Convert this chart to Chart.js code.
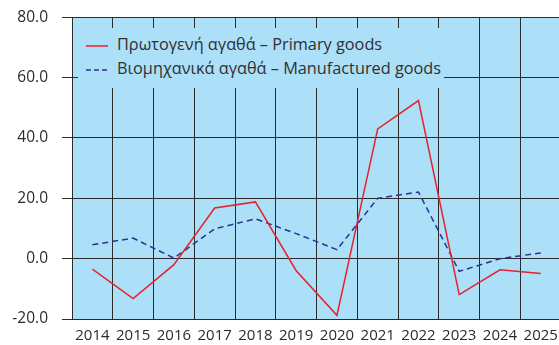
<!DOCTYPE html>
<html>
<head>
<meta charset="utf-8">
<script src="https://cdn.jsdelivr.net/npm/chart.js@4/dist/chart.umd.min.js"></script>
<style>
  html, body { margin: 0; padding: 0; background: #fff; overflow: hidden; }
  #wrap { position: relative; width: 566px; height: 345px; overflow: hidden; }
  #myChart { position: absolute; left: 0; top: -6px; }
  #legend {
    position: absolute; left: 78px; top: 28px; width: 366px; height: 60px;
    background: #acdff8; font-family: "Open Sans", sans-serif; font-size: 16.3px; color: #303030;
  }
  .row { position: absolute; left: 8px; height: 20px; line-height: 20px; white-space: nowrap; }
  .row svg { vertical-align: middle; margin-right: 9px; }
</style>
</head>
<body>
<div id="wrap">
  <canvas id="myChart" width="566" height="351"></canvas>
  <div id="legend"></div>
</div>
<script>
const years = ['2014','2015','2016','2017','2018','2019','2020','2021','2022','2023','2024','2025'];
const primary = [-3.5, -13.2, -2.0, 16.8, 18.8, -4.0, -18.8, 43.0, 52.4, -11.9, -3.7, -4.9];
const manufactured = [4.6, 6.8, 0.2, 9.9, 13.2, 8.3, 3.0, 20.0, 22.1, -4.2, 0.0, 1.9];
const seriesNames = ['Πρωτογενή αγαθά – Primary goods', 'Βιομηχανικά αγαθά – Manufactured goods'];
const seriesColors = ['#e8212b', '#2e3192'];
const seriesDash = [[], [6, 4]];

const gridColor = '#2b2b2b';
const tickColor = '#2b2b2b';

// light blue fill behind the plot area
const plotBg = {
  id: 'plotBg',
  beforeDraw(chart) {
    const a = chart.chartArea, c = chart.ctx;
    c.save();
    c.fillStyle = '#acdff8';
    c.fillRect(a.left, a.top, a.right - a.left, a.bottom - a.top);
    c.restore();
  }
};

const ctx = document.getElementById('myChart').getContext('2d');
const myChart = new Chart(ctx, {
  type: 'line',
  data: {
    labels: years,
    datasets: [primary, manufactured].map((d, i) => ({
      label: seriesNames[i],
      data: d,
      borderColor: seriesColors[i],
      borderWidth: 1.5,
      borderDash: seriesDash[i],
      pointRadius: 0,
      tension: 0,
      fill: false
    }))
  },
  options: {
    responsive: false,
    animation: false,
    layout: { padding: { top: 10, right: 2, left: 0, bottom: 0 } },
    plugins: { legend: { display: false }, tooltip: { enabled: false } },
    scales: {
      x: {
        offset: true,
        grid: { offset: true, color: gridColor, lineWidth: 1, drawTicks: false },
        border: { color: gridColor, width: 1 },
        ticks: { color: tickColor, padding: 8, maxRotation: 0, font: { family: 'Open Sans', size: 15 } },
        afterFit(scale) { scale.height = 26; }
      },
      y: {
        min: -20,
        max: 80,
        grid: { color: gridColor, lineWidth: 1, tickLength: 10 },
        border: { color: gridColor, width: 1 },
        ticks: {
          stepSize: 20,
          color: tickColor,
          padding: 14,
          font: { family: 'Open Sans', size: 15.5 },
          callback: v => v.toFixed(1)
        },
        afterFit(scale) { scale.width = 72; }
      }
    }
  },
  plugins: [plotBg]
});

// legend box inside the plot
const legend = document.getElementById('legend');
seriesNames.forEach((name, i) => {
  const row = document.createElement('div');
  row.className = 'row';
  row.style.top = (6 + i * 24) + 'px';
  const dash = seriesDash[i].length ? ' stroke-dasharray="5 3"' : '';
  row.innerHTML = '<svg width="22" height="4"><line x1="0" y1="2" x2="22" y2="2" stroke="' +
    seriesColors[i] + '" stroke-width="1.5"' + dash + '/></svg>' + name;
  legend.appendChild(row);
});
</script>
</body>
</html>
